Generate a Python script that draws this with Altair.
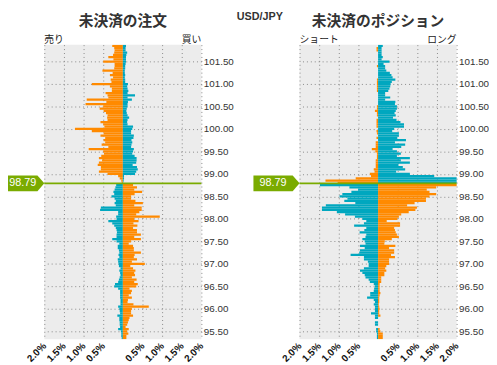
import altair as alt
import pandas as pd

CURRENT = 98.79
TOP_LEVEL = 101.85
N_LEVELS = 131
levels = [round(TOP_LEVEL - 0.05 * i, 2) for i in range(N_LEVELS)]

x_ticks = [-2.0, -1.5, -1.0, -0.5, 0.5, 1.0, 1.5, 2.0]
y_ticks = [95.5, 96.0, 96.5, 97.0, 97.5, 98.0, 98.5, 99.0, 99.5, 100.0, 100.5, 101.0, 101.5]

# ---- open orders (%), levels 101.85 .. 98.80 (above current price)
ord_sell_above = [0.27, 0.22, 0.21, 0.22, 0.25, 0.37, 0.24, 0.50, 0.21, 0.21,
                  0.22, 0.52, 0.26, 0.33, 0.25, 0.31, 0.29, 0.79, 0.33, 0.28,
                  0.28, 0.44, 0.39, 0.37, 0.92, 0.42, 0.95, 0.50, 0.59, 0.49,
                  0.43, 0.39, 0.40, 0.39, 0.57, 0.50, 0.47, 1.22,
                  0.79, 0.49, 0.57, 0.45, 0.49, 0.45, 0.54, 0.37, 0.87, 0.50, 0.48,
                  0.55,
                  0.61, 0.53, 0.61, 0.64, 0.56, 0.56, 0.61, 0.39, 0.12, 0.08, 0.04,
                  0.03]
ord_buy_above = [0.08, 0.07, 0.07, 0.11, 0.09, 0.08, 0.08, 0.08, 0.07, 0.06,
                 0.06, 0.05, 0.05, 0.06, 0.05, 0.06, 0.06, 0.13, 0.11, 0.12,
                 0.14, 0.12, 0.31, 0.12, 0.23, 0.13, 0.12, 0.12, 0.10, 0.09,
                 0.10, 0.12, 0.16, 0.12, 0.11, 0.12, 0.26, 0.24, 0.21, 0.21,
                 0.28, 0.27, 0.22, 0.24, 0.22, 0.21, 0.28, 0.26, 0.24,
                 0.30,
                 0.35, 0.35, 0.34, 0.25, 0.36, 0.38, 0.34, 0.31, 0.03, 0.03, 0.02,
                 0.01]
# levels 98.75 .. 95.35 (below current price)
ord_sell_below = [0.17, 0.19, 0.21, 0.24,
                  0.22,
                  0.29, 0.21, 0.18, 0.21, 0.18, 0.56, 0.58, 0.12, 0.12, 0.17,
                  0.16, 0.37, 0.27, 0.22, 0.18, 0.16, 0.15, 0.16, 0.16, 0.27,
                  0.16, 0.09, 0.13, 0.13, 0.10, 0.09,
                  0.11,
                  0.09, 0.13, 0.12, 0.11, 0.10, 0.06, 0.09, 0.07, 0.06, 0.08,
                  0.10, 0.12, 0.20, 0.22, 0.12, 0.07, 0.07, 0.07, 0.07, 0.06,
                  0.06, 0.06, 0.12, 0.09, 0.08, 0.07, 0.14, 0.09, 0.09, 0.08,
                  0.08, 0.07, 0.12, 0.05, 0.04, 0.04, 0.03]
ord_buy_below = [0.26, 0.36, 0.29, 0.49,
                 0.30,
                 0.21, 0.21, 0.32, 0.51, 0.29, 0.48, 0.48, 0.42, 0.34, 0.94,
                 0.29, 0.40, 0.27, 0.37, 0.26, 0.36, 0.36, 0.46, 0.29, 0.46,
                 0.21, 0.15, 0.26, 0.28, 0.28, 0.46,
                 0.30,
                 0.28, 0.36, 0.23, 0.56, 0.19, 0.26, 0.32, 0.29, 0.31, 0.23,
                 0.35, 0.29, 0.38, 0.34, 0.17, 0.23, 0.21, 0.15, 0.23, 0.13,
                 0.12, 0.27, 0.66, 0.23, 0.21, 0.21, 0.26, 0.17, 0.15, 0.13,
                 0.11, 0.07, 0.15, 0.11, 0.14, 0.09, 0.09]

# ---- open positions (%)
pos_short_above = [0.0, 0.04, 0.04, 0.0, 0.0, 0.0, 0.0, 0.0, 0.0, 0.03,
                   0.0, 0.0, 0.0, 0.0, 0.0, 0.03, 0.03, 0.03, 0.03, 0.03,
                   0.03, 0.0, 0.0, 0.0, 0.0, 0.0, 0.0, 0.03, 0.03, 0.08,
                   0.03,
                   0.03, 0.0, 0.04, 0.04, 0.04, 0.04, 0.0, 0.04, 0.03, 0.0,
                   0.04, 0.0, 0.06, 0.06, 0.06, 0.16, 0.07, 0.03, 0.03, 0.03,
                   0.06, 0.06, 0.06, 0.06, 0.11, 0.09, 0.21, 0.18, 0.57, 1.34, 1.03]
pos_long_above = [0.12, 0.09, 0.09, 0.09, 0.09, 0.12, 0.09, 0.29, 0.14, 0.18,
                  0.18, 0.21, 0.30, 0.34, 0.37, 0.44, 0.35, 0.32, 0.31, 0.29,
                  0.26, 0.18, 0.18, 0.31, 0.18, 0.44, 0.43, 0.48, 0.48, 0.45,
                  0.42,
                  0.45, 0.38, 0.47, 0.57, 0.66, 0.66, 0.41, 0.36, 0.53, 0.53,
                  0.49, 0.71, 0.43, 0.69, 0.59, 0.37, 0.48, 0.58, 0.48, 0.81,
                  0.58, 0.81, 0.52, 0.63, 0.69, 0.46, 0.81, 1.43, 2.3, 2.3, 2.3]
pos_short_below = [1.48, 0.73, 0.51, 0.68, 0.91, 0.98, 0.78, 0.86, 0.58, 1.33,
                   1.43, 1.43, 1.05, 0.84, 0.59, 0.40, 0.30, 0.36, 0.61, 0.30,
                   0.35,
                   0.47, 0.30, 0.32, 0.40, 0.34, 0.32, 0.46, 0.34, 0.46, 0.48,
                   0.70, 0.36, 0.36, 0.26, 0.24, 0.24, 0.36, 0.46, 0.40, 0.34,
                   0.32, 0.24, 0.21, 0.11, 0.08,
                   0.10,
                   0.11, 0.20, 0.20, 0.28, 0.11, 0.08, 0.11, 0.08, 0.08, 0.08,
                   0.18, 0.08, 0.08, 0.0, 0.08, 0.08, 0.0, 0.05, 0.05, 0.03, 0.03, 0.03]
pos_long_below = [2.3, 1.48, 1.24, 1.31, 1.48, 1.31, 1.22, 1.22, 0.93, 0.74,
                  0.99, 0.95, 0.78, 0.59, 0.53, 0.49, 0.22, 0.56, 0.56, 0.41,
                  0.43,
                  0.45, 0.48, 0.53, 0.35, 0.17, 0.16, 0.44, 0.28, 0.41, 0.41,
                  0.33, 0.43, 0.28, 0.28, 0.28, 0.21, 0.18, 0.21, 0.16, 0.16,
                  0.08, 0.08, 0.08, 0.04, 0.04,
                  0.04,
                  0.04, 0.06, 0.04, 0.03, 0.03, 0.03, 0.02, 0.03, 0.04, 0.03,
                  0.03, 0.06, 0.0, 0.0, 0.0, 0.0, 0.0, 0.04, 0.06, 0.12, 0.12, 0.12]

ORANGE = "#ff8a00"
TEAL = "#00a7bf"
GREEN = "#7aab00"
BG = "#ececec"
JP = "Noto Sans CJK JP"
NUM = "Liberation Sans"


def build(left_above, right_above, left_below, right_below):
    left = left_above + left_below
    right = right_above + right_below
    rows = []
    for i, p in enumerate(levels):
        above = p > CURRENT
        lo, hi = p - 0.025, p + 0.025
        if above:
            lo = max(lo, CURRENT)
        else:
            hi = min(hi, CURRENT)
        lk, rk = ("a", "b") if above else ("b", "a")
        if left[i] > 0:
            rows.append(dict(price=p, y0=lo, y1=hi, x0=0.0, x1=-left[i], kind=lk))
        if right[i] > 0:
            rows.append(dict(price=p, y0=lo, y1=hi, x0=0.0, x1=right[i], kind=rk))
    return pd.DataFrame(rows)


def text_layer(txt, x, y, size, bold, align, font, color="#333333"):
    return alt.Chart(pd.DataFrame({"t": [txt]})).mark_text(
        font=font, fontSize=size, fontWeight="bold" if bold else "normal",
        color=color, align=align, baseline="alphabetic",
    ).encode(x=alt.value(x), y=alt.value(y), text="t:N")


X_SCALE = alt.Scale(domain=[-2, 2], nice=False, zero=False)
Y_SCALE = alt.Scale(domain=[95.325, 101.875], nice=False, zero=False)
X_AXIS = alt.Axis(
    values=x_ticks, labelExpr="format(abs(datum.value), '.1f') + '%'",
    labelAngle=315, labelAlign="right", labelBaseline="middle",
    labelFont=NUM, labelFontSize=10, labelFontWeight="bold", labelColor="#111111",
    labelPadding=5, labelFlush=False, labelOverlap=False,
    ticks=False, domain=False, title=None,
    grid=True, gridDash=[1, 3], gridColor="#888888", gridWidth=1)
Y_AXIS = alt.Axis(
    orient="right", values=y_ticks, format=".2f",
    labelFont=NUM, labelFontSize=10, labelColor="#333333", labelPadding=2,
    labelFlush=False, labelOverlap=False,
    ticks=False, domain=False, title=None,
    grid=True, gridDash=[1, 3], gridColor="#888888", gridWidth=1)


def panel(df, title, left_lab, right_lab, tag_path, tag_text_x, extra=None):
    bars = alt.Chart(df).mark_rect(clip=True).encode(
        x=alt.X("x0:Q", scale=X_SCALE, axis=X_AXIS),
        x2="x1:Q",
        y=alt.Y("y0:Q", scale=Y_SCALE, axis=Y_AXIS),
        y2="y1:Q",
        color=alt.Color("kind:N", scale=alt.Scale(domain=["a", "b"], range=[ORANGE, TEAL]), legend=None),
    )
    pdf = pd.DataFrame({"price": [CURRENT], "label": [f"{CURRENT:.2f}"]})
    yp = alt.Y("price:Q", scale=Y_SCALE, axis=Y_AXIS)
    rule = alt.Chart(pdf).mark_rule(color=GREEN, strokeWidth=2).encode(y=yp)
    tag = alt.Chart(pdf).mark_point(
        shape=tag_path, size=256, filled=True, color=GREEN, opacity=1, strokeWidth=0
    ).encode(x=alt.value(0), y=yp)
    tag_txt = alt.Chart(pdf).mark_text(
        color="white", font=NUM, fontSize=11, align="center", baseline="middle"
    ).encode(x=alt.value(tag_text_x), y=yp, text="label:N")
    layers = [bars, rule, tag, tag_txt,
              text_layer(title, 80, -19, 15, True, "center", JP),
              text_layer(left_lab, 0, -2, 10, False, "left", JP, "#222222"),
              text_layer(right_lab, 160, -2, 10, False, "right", JP, "#222222")]
    if extra is not None:
        layers.append(extra)
    return alt.layer(*layers).properties(width=160, height=300)


orders = build(ord_sell_above, ord_buy_above, ord_sell_below, ord_buy_below)
positions = build(pos_short_above, pos_long_above, pos_short_below, pos_long_below)

left_panel = panel(orders, "未決済の注文", "売り", "買い",
                   "M-4.625,-1L-0.875,-1L0,0L-0.875,1L-4.625,1Z", -22)
usd = text_layer("USD/JPY", -40.5, -25, 11, True, "center", NUM)
right_panel = panel(positions, "未決済のポジション", "ショート", "ロング",
                    "M-5.875,-1L-0.875,-1L0,0L-0.875,1L-5.875,1Z", -27, extra=usd)

chart = alt.hconcat(left_panel, right_panel, spacing=100, bounds="flush").resolve_scale(
    color="independent"
).configure_view(fill=BG, stroke=None).configure_axis(labelOverlap=False).properties(padding=0)

chart.save("out.html", embed_options={"renderer": "svg", "actions": False})
